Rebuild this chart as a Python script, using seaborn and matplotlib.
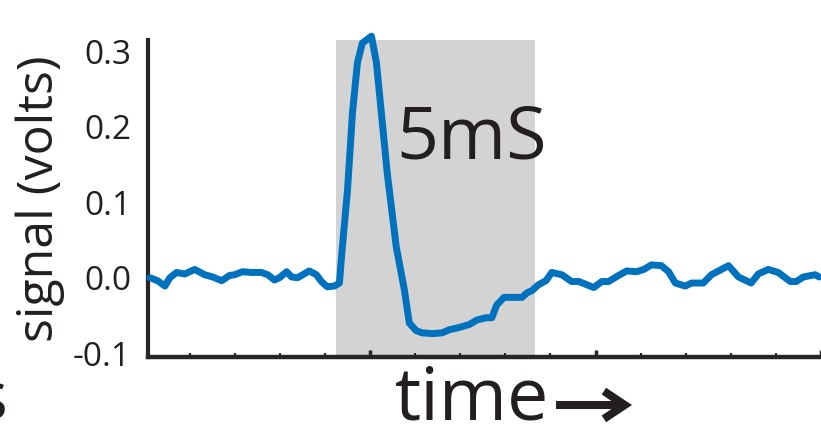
import numpy as np
import pandas as pd
import matplotlib
matplotlib.use("Agg")
import matplotlib.pyplot as plt
import seaborn as sns
from matplotlib.ticker import MultipleLocator

# trace (time in tick units, signal in volts)
time = [0.12, 0.29, 0.45, 0.56, 0.71, 0.89, 1.11, 1.33, 1.51, 1.71,
        1.88, 2.00, 2.17, 2.37, 2.59, 2.73, 2.88, 2.99, 3.15, 3.26,
        3.39, 3.65, 3.81, 3.92, 4.05, 4.21, 4.32, 4.38, 4.50, 4.61,
        4.72, 4.83, 5.03, 5.14, 5.20, 5.38, 5.58, 5.76, 5.87, 6.02,
        6.15, 6.38, 6.60, 6.75, 6.97, 7.20, 7.37, 7.57, 7.70, 7.81,
        7.97, 8.15, 8.37, 8.48, 8.59, 8.74, 8.90, 9.03, 9.25, 9.47,
        9.63, 9.96, 10.14, 10.29, 10.51, 10.69, 10.91, 11.07, 11.24, 11.46,
        11.62, 11.77, 11.99, 12.13, 12.39, 12.57, 12.73, 12.95, 13.17, 13.45,
        13.61, 13.83, 14.05, 14.32, 14.45, 14.61, 14.87, 14.96]
signal = [0.000, -0.004, -0.011, 0.000, 0.007, 0.005, 0.011, 0.004, 0.001, -0.004,
          0.003, 0.004, 0.008, 0.007, 0.007, 0.004, -0.003, 0.000, 0.008, 0.001,
          0.000, 0.009, 0.004, -0.005, -0.012, -0.011, -0.007, 0.037, 0.117, 0.219,
          0.285, 0.311, 0.320, 0.285, 0.249, 0.139, 0.041, -0.016, -0.060, -0.070,
          -0.073, -0.074, -0.073, -0.069, -0.066, -0.062, -0.056, -0.053, -0.053, -0.036,
          -0.026, -0.026, -0.026, -0.020, -0.017, -0.009, -0.004, 0.007, 0.004, -0.005,
          -0.005, -0.013, -0.005, -0.005, 0.003, 0.009, 0.008, 0.011, 0.017, 0.016,
          0.008, -0.007, -0.011, -0.007, -0.007, 0.004, 0.009, 0.016, 0.001, -0.007,
          0.005, 0.011, 0.007, -0.005, -0.005, 0.001, 0.004, 0.001]

window = (4.25, 8.66)   # shaded 5 mS window
yticks = [-0.1, 0.0, 0.1, 0.2, 0.3]
ytick_labels = ["-0.1", "0.0", "0.1", "0.2", "0.3"]

sns.set_style("ticks")
plt.rcParams['font.family'] = ['Open Sans', 'DejaVu Sans']

df = pd.DataFrame({"time": time, "signal": signal})

fig = plt.figure(figsize=(8.21, 4.25), dpi=100)
ax = fig.add_axes([0.180, 0.160, 0.820, 0.746])

ax.axvspan(window[0], window[1], color="#d3d3d3", lw=0, zorder=0)
sns.lineplot(data=df, x="time", y="signal", ax=ax, color="#0072bd",
             linewidth=5.0, clip_on=False, zorder=3)

ax.set_xlim(0.07, 15.0)
ax.set_ylim(-0.105, 0.315)
ax.set_yticks(yticks)
ax.set_yticklabels(ytick_labels)
ax.xaxis.set_major_locator(MultipleLocator(5))
ax.xaxis.set_minor_locator(MultipleLocator(1))
ax.tick_params(axis="x", which="major", direction="in", length=5, width=2.5,
               labelbottom=False)
ax.tick_params(axis="x", which="minor", direction="in", length=3, width=1.5)
ax.tick_params(axis="y", length=0, pad=12, labelsize=24, labelcolor="#231f20")

sns.despine(ax=ax)
ax.spines["left"].set_linewidth(3)
ax.spines["bottom"].set_linewidth(3.2)
ax.set_xlabel("")
ax.set_ylabel("signal (volts)", fontsize=36, labelpad=6, color="#231f20")

ax.text(5.58, 0.183, "5mS", fontsize=53, ha="left", va="center", color="#231f20")

fig.text(395 / 821, 1 - 420 / 425, "time", fontsize=53, ha="left",
         va="baseline", color="#231f20")
ax.annotate("", xy=(632 / 821, 1 - 405 / 425), xytext=(556 / 821, 1 - 405 / 425),
            xycoords="figure fraction", textcoords="figure fraction",
            arrowprops=dict(arrowstyle="->,head_length=0.75,head_width=0.5",
                            lw=5.8, color="#231f20", mutation_scale=20,
                            shrinkA=0, shrinkB=0, joinstyle="miter",
                            capstyle="butt"))
fig.text(-0.030, 1 - 420 / 425, "s", fontsize=48, ha="left", va="baseline",
         color="#231f20")

fig.savefig("out.png", dpi=100)
